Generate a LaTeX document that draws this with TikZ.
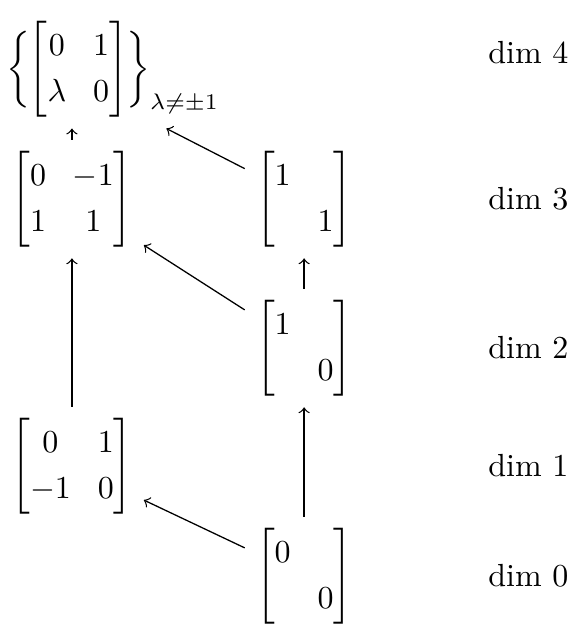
\documentclass[tikz,border=0pt]{standalone}
\usepackage{amssymb,amsmath}
\usepackage{tikz}
\usetikzlibrary{calc}
\renewcommand{\arraystretch}{1.2}
\setlength{\arraycolsep}{4.2pt}

\begin{document}
\begin{tikzpicture}[>=to,
		mat/.style={inner sep=3.33pt},
		dimlab/.style={anchor=west}]
		\def\xl{0.79}\def\xr{3.34}\def\xd{5.24}
		\useasboundingbox (0,0) rectangle (6.238,-6.897);
		% dim 4
		\node[mat, anchor=west] (top) at (-0.05,-0.76) {$\bigg\{\mkern-4mu\begin{bmatrix}0 & 1\\ \lambda & 0\end{bmatrix}\mkern-4mu\bigg\}_{\lambda\neq\pm1}$};
		% dim 3
		\node[mat] (l3) at (\xl,-2.186) {$\begin{bmatrix}0 & -1\\ 1 & 1\end{bmatrix}$};
		\node[mat] (r3) at (\xr,-2.186) {$\begin{bmatrix}1 & \\ & 1\end{bmatrix}$};
		% dim 2
		\node[mat] (r2) at (\xr,-3.822) {$\begin{bmatrix}1 & \\ & 0\end{bmatrix}$};
		% dim 1
		\node[mat] (l1) at (\xl,-5.118) {$\begin{bmatrix}0 & 1\\ -1 & 0\end{bmatrix}$};
		% dim 0
		\node[mat] (r0) at (\xr,-6.326) {$\begin{bmatrix}0 & \\ & 0\end{bmatrix}$};
		% dimensions
		\node[dimlab] (d4) at (\xd,-0.582) {dim 4};
		\node[dimlab] (d3) at (\xd,-2.186) {dim 3};
		\node[dimlab] (d2) at (\xd,-3.822) {dim 2};
		\node[dimlab] (d1) at (\xd,-5.118) {dim 1};
		\node[dimlab] (d0) at (\xd,-6.326) {dim 0};
		% arrows
		\draw[->] (l3) -- (l3 |- top.south);
		\draw[->] (r3) -- (top.-48);
		\draw[->] (r2) -- (r3);
		\draw[->] (r2) -- (l3);
		\draw[->] (l1) -- (l3);
		\draw[->] (r0) -- (r2);
		\draw[->] (r0) -- (l1);
	\end{tikzpicture}
\end{document}
